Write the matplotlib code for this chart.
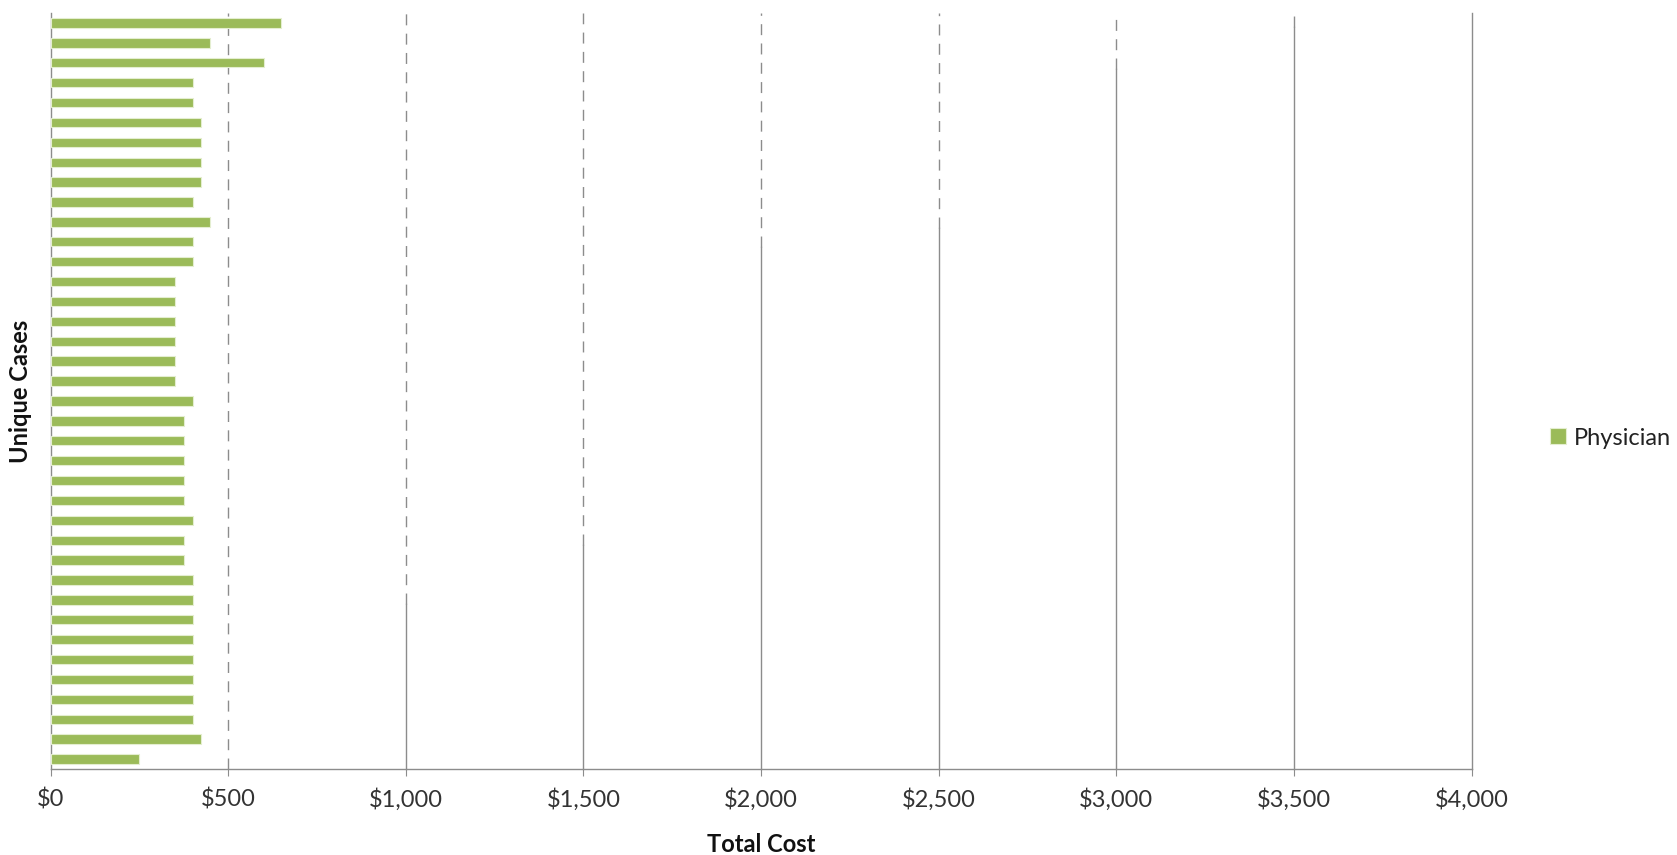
import numpy as np
import matplotlib
matplotlib.use("Agg")
import matplotlib.pyplot as plt
from matplotlib.ticker import FuncFormatter
from matplotlib.transforms import blended_transform_factory

# physician cost per unique case, top to bottom
cases = [f"Case {i}" for i in range(1, 39)]
physician = [650, 450, 600, 400, 400, 425, 425, 425, 425, 400,
             450, 400, 400, 350, 350, 350, 350, 350, 350, 400,
             375, 375, 375, 375, 375, 400, 375, 375, 400, 400,
             400, 400, 400, 400, 400, 400, 425, 250]
x_ticks = [0, 500, 1000, 1500, 2000, 2500, 3000, 3500, 4000]
# fraction of each gridline (from the top) that is drawn dashed
dashed_part = [0.0, 1.0, 0.782, 0.704, 0.31, 0.284, 0.074, 0.019, 0.0]

GREEN = "#9BBB59"
GREY = "#8C8C8C"

plt.rcParams['font.family'] = ['Lato', 'DejaVu Sans']

W, H = 1677, 855
fig = plt.figure(figsize=(W / 100, H / 100), dpi=100)
left, right, top, bottom = 50.5, 1471.6, 13, 769
ax = fig.add_axes([left / W, (H - bottom) / H, (right - left) / W, (bottom - top) / H])

y = np.arange(len(cases))
bars = ax.barh(y, physician, height=0.47, color=GREEN, edgecolor="#E4EED0",
               linewidth=0.8, label="Physician", zorder=3)
ax.set_ylim(len(cases) - 0.5, -0.5)
ax.set_xlim(0, 4000)

# gridlines: dashed on top, solid below
trans = blended_transform_factory(ax.transData, ax.transAxes)
for xv, frac in zip(x_ticks[1:], dashed_part[1:]):
    split = 1 - frac
    if frac > 0:
        ax.plot([xv, xv], [split, 1], transform=trans, color=GREY, lw=1.0,
                dashes=(7.9, 6.0), zorder=1, clip_on=False)
    if split > 0:
        ax.plot([xv, xv], [0, split], transform=trans, color=GREY, lw=1.0,
                zorder=1, clip_on=False)

for s in ["top", "right"]:
    ax.spines[s].set_visible(False)
for s in ["left", "bottom"]:
    ax.spines[s].set_color(GREY)
    ax.spines[s].set_linewidth(1.0)

ax.set_yticks([])
ax.set_xticks(x_ticks)
ax.xaxis.set_major_formatter(FuncFormatter(lambda v, p: f"${int(v):,}"))
ax.tick_params(axis="x", direction="out", length=5, color=GREY, labelsize=17,
               labelcolor="#333333", pad=9)

fig.text((left + right) / 2 / W, 1 - 844 / H, "Total Cost", ha="center", va="center",
         fontsize=17, fontweight="bold", color="#111111")
fig.text(21 / W, 1 - 391 / H, "Unique Cases", ha="center", va="center",
         rotation=90, fontsize=17, fontweight="bold", color="#111111")

fig.legend(handles=[bars], labels=["Physician"], loc="center left",
           bbox_to_anchor=(1550 / W, 1 - 438 / H), frameon=False, fontsize=17,
           handlelength=0.68, handleheight=0.68, handletextpad=0.35,
           borderpad=0, borderaxespad=0, labelcolor="#222222")

fig.savefig("out.png", dpi=100)
